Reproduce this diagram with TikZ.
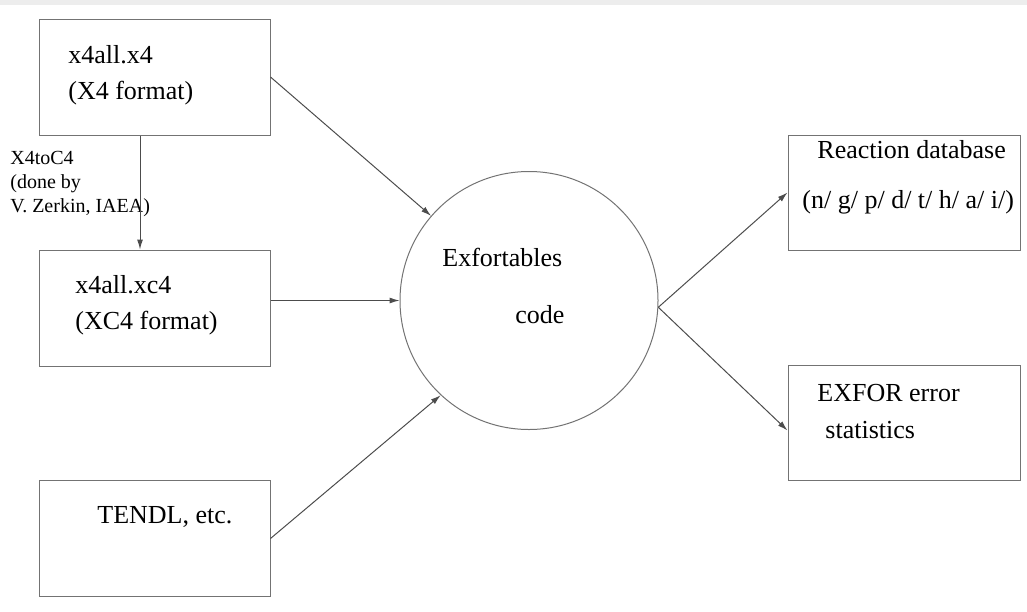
\documentclass[tikz,border=0pt]{standalone}
\usepackage{fontspec}
\setmainfont{Liberation Serif}
\usetikzlibrary{arrows.meta}

\begin{document}
\begin{tikzpicture}[x=0.5pt,y=-0.5pt,
    box/.style={draw=black!55,line width=0.5pt,inner sep=0pt,minimum width=115.5pt,minimum height=58pt},
    txt/.style={anchor=west,inner sep=0pt,font=\fontsize{13}{18}\selectfont},
    arr/.style={-{Latex[length=5pt,width=3pt]},draw=black!70,line width=0.5pt}]
    \useasboundingbox (0,0) rectangle (1027,611);
    \fill[black!7] (0,0) rectangle (1027,5); % top strip

    % Draw input boxes
    \node[box] (x4) at (154.5,77) {};
    \node[box] (xc4) at (154.5,308) {};
    \node[box] (tendl) at (154.5,538.5) {};
    % Draw code circle
    \node[circle,draw=black!55,line width=0.5pt,minimum size=129pt,inner sep=0pt] (core) at (529,300.5) {};
    % Draw output boxes
    \node[box,minimum width=116pt,minimum height=57.5pt] (react) at (904,192.5) {};
    \node[box,minimum width=116pt,minimum height=57.5pt] (err) at (904,422.5) {};

    % Label boxes
    \node[txt,align=left] (x4txt) at (68,75) {x4all.x4\\(X4 format)};
    \node[txt,align=left] (xc4txt) at (75,305) {x4all.xc4\\(XC4 format)};
    \node[txt] (tendltxt) at (97,517) {TENDL, etc.};
    \node[txt] (exf) at (442,257) {Exfortables};
    \node[txt] (code) at (515,315) {code};
    \node[txt] (reacta) at (817,150) {Reaction database};
    \node[txt] (reactb) at (802,202) {(n/ g/ p/ d/ t/ h/ a/ i/)};
    \node[txt] (erra) at (817,393) {EXFOR error};
    \node[txt] (errb) at (825,430) {statistics};
    \node[anchor=west,inner sep=0pt,align=left,font=\fontsize{10}{12}\selectfont] (conv) at (10,184) {X4toC4\\(done by\\V. Zerkin, IAEA)};

    % Draw arrows
    \draw[arr] ([xshift=-7.25pt]x4.south) -- ([xshift=-7.25pt]xc4.north);
    \draw[arr] (x4.east) -- (core);
    \draw[arr] (xc4.east |- core.center) -- (core.west);
    \draw[arr] (tendl.east) -- (core.227);
    \draw[arr] (core.357) -- (react.west);
    \draw[arr] (core.357) -- ([yshift=-4pt]err.west);
\end{tikzpicture}
\end{document}
